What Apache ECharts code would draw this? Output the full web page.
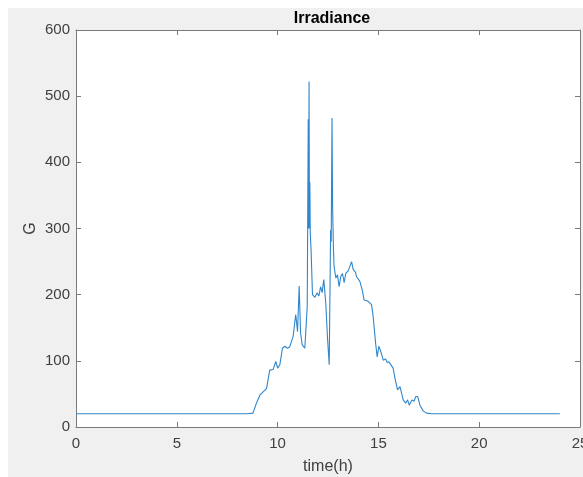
<!DOCTYPE html>
<html>
<head>
<meta charset="utf-8">
<script src="https://cdn.jsdelivr.net/npm/echarts@6/dist/echarts.min.js"></script>
<style>html,body{margin:0;padding:0;background:#fff;}#c{width:583px;height:477px;}</style>
</head>
<body>
<div id="c"></div>
<script>
// time in hours
var timeH = [0, 1, 2, 3, 4, 5, 6, 7, 8, 8.5, 8.78, 8.95, 9.12, 9.28, 9.45, 9.61, 9.78, 9.91, 10.0, 10.11, 10.24, 10.36, 10.49, 10.6, 10.68, 10.77, 10.9, 10.99, 11.07, 11.14, 11.22, 11.35, 11.47, 11.52, 11.54, 11.56, 11.58, 11.6, 11.62, 11.66, 11.73, 11.85, 11.96, 12.05, 12.13, 12.21, 12.29, 12.39, 12.48, 12.56, 12.63, 12.66, 12.70, 12.73, 12.77, 12.8, 12.89, 12.97, 13.05, 13.14, 13.22, 13.3, 13.38, 13.5, 13.58, 13.67, 13.75, 13.86, 13.92, 14.0, 14.08, 14.2, 14.29, 14.49, 14.66, 14.74, 14.86, 14.94, 15.02, 15.12, 15.24, 15.35, 15.43, 15.53, 15.6, 15.73, 15.82, 15.95, 16.07, 16.23, 16.35, 16.45, 16.53, 16.66, 16.77, 16.85, 16.95, 17.06, 17.23, 17.39, 17.64, 18, 19, 20, 21, 22, 23, 24];
// irradiance G
var irrG = [20, 20, 20, 20, 20, 20, 20, 20, 20, 20, 21, 36, 48, 53, 58, 86, 87, 99, 89, 94, 119, 122, 119, 121, 119, 137, 170, 144, 213, 142, 124, 119, 183, 465, 300, 522, 300, 370, 294, 268, 200, 196, 203, 198, 212, 203, 223, 187, 132, 94, 298, 280, 467, 330, 270, 243, 225, 230, 212, 228, 232, 218, 232, 236, 234, 250, 238, 234, 227, 230, 220, 207, 192, 190, 185, 167, 127, 106, 122, 114, 101, 103, 98, 98, 101, 89, 74, 56, 61, 41, 36, 41, 33, 41, 39, 46, 46, 33, 24, 21, 20, 20, 20, 20, 20, 20, 20, 20];
var xTicks = [0, 5, 10, 15, 20, 25];
var yTicks = [0, 100, 200, 300, 400, 500, 600];

var seriesData = timeH.map(function (t, i) { return [t, irrG[i]]; });
var font = 'Liberation Sans, Arial, Helvetica, sans-serif';
var axisCol = '#7a7a7a';
var textCol = '#404040';

var chart = echarts.init(document.getElementById('c'), null, {renderer: 'canvas'});
chart.setOption({
  backgroundColor: '#f0f0f0',
  animation: false,
  graphic: [
    {type: 'rect', left: 0, top: 0, shape: {width: 583, height: 8}, style: {fill: '#ffffff'}, z: -1, silent: true},
    {type: 'rect', left: 0, top: 0, shape: {width: 8, height: 477}, style: {fill: '#ffffff'}, z: -1, silent: true}
  ],
  title: {
    text: 'Irradiance', left: 327, top: 6, textAlign: 'center',
    textStyle: {fontFamily: font, fontSize: 16, fontWeight: 'bold', color: '#000'}
  },
  grid: {
    left: 76, right: 3, top: 30, bottom: 50,
    show: true, backgroundColor: '#ffffff', borderWidth: 0,
    containLabel: false, outerBoundsMode: 'none'
  },
  xAxis: [{
    type: 'value', min: xTicks[0], max: xTicks[xTicks.length - 1], interval: 5,
    name: 'time(h)', nameLocation: 'middle', nameGap: 32, nameMoveOverlap: false,
    nameTextStyle: {fontFamily: font, fontSize: 16, color: textCol},
    axisLine: {show: true, onZero: false, lineStyle: {color: axisCol, width: 1}},
    axisTick: {show: true, inside: true, length: 5, lineStyle: {color: axisCol}},
    axisLabel: {fontFamily: font, fontSize: 15, color: textCol, margin: 9},
    splitLine: {show: false}
  }, {
    type: 'value', position: 'top', min: 0, max: 25, interval: 5,
    axisLine: {show: true, onZero: false, lineStyle: {color: axisCol, width: 1}},
    axisTick: {show: true, inside: true, length: 5, lineStyle: {color: axisCol}},
    axisLabel: {show: false}, splitLine: {show: false}
  }],
  yAxis: [{
    type: 'value', min: yTicks[0], max: yTicks[yTicks.length - 1], interval: 100,
    name: 'G', nameLocation: 'middle', nameGap: 37, nameMoveOverlap: false,
    nameTextStyle: {fontFamily: font, fontSize: 16, color: textCol},
    axisLine: {show: true, onZero: false, lineStyle: {color: axisCol, width: 1}},
    axisTick: {show: true, inside: true, length: 5, lineStyle: {color: axisCol}},
    axisLabel: {fontFamily: font, fontSize: 15, color: textCol, margin: 6},
    splitLine: {show: false}
  }, {
    type: 'value', position: 'right', min: 0, max: 600, interval: 100,
    axisLine: {show: true, onZero: false, lineStyle: {color: axisCol, width: 1}},
    axisTick: {show: true, inside: true, length: 5, lineStyle: {color: axisCol}},
    axisLabel: {show: false}, splitLine: {show: false}
  }],
  series: [{
    type: 'line', data: seriesData, xAxisIndex: 0, yAxisIndex: 0,
    showSymbol: false, symbol: 'none',
    lineStyle: {color: '#2f86cc', width: 1.1}
  }]
});
</script>
</body>
</html>
